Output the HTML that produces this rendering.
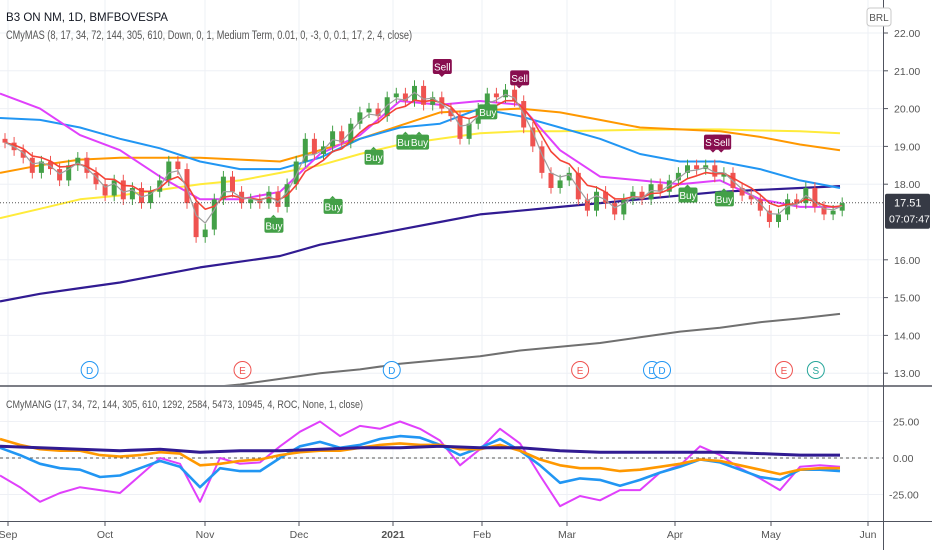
<!DOCTYPE html>
<html><head><meta charset="utf-8"><style>
html,body{margin:0;padding:0;background:#fff;}
svg{display:block;font-family:"Liberation Sans",sans-serif;}
</style></head><body>
<svg id="chart" width="932" height="550" viewBox="0 0 932 550" xmlns="http://www.w3.org/2000/svg">
<rect x="0" y="0" width="932" height="550" fill="#ffffff"/>
<g id="grid"></g>
<g id="main"></g>
<g id="osc"></g>
<g id="axes"></g>
<text x="6" y="21" font-size="11.5" fill="#131722" textLength="162" lengthAdjust="spacingAndGlyphs">B3 ON NM, 1D, BMFBOVESPA</text>
<text x="6" y="39" font-size="11.5" fill="#555" textLength="406" lengthAdjust="spacingAndGlyphs">CMyMAS (8, 17, 34, 72, 144, 305, 610, Down, 0, 1, Medium Term, 0.01, 0, -3, 0, 0.1, 17, 2, 4, close)</text>
<text x="6" y="408" font-size="11" fill="#555" textLength="357" lengthAdjust="spacingAndGlyphs">CMyMANG (17, 34, 72, 144, 305, 610, 1292, 2584, 5473, 10945, 4, ROC, None, 1, close)</text>
<rect x="867" y="8" width="24" height="18" rx="3" fill="#fff" stroke="#c8c8c8"/>
<text x="879" y="21" font-size="10" fill="#555" text-anchor="middle">BRL</text>
</svg>
<script>
// ---- main pane data ----
const closes = [19.1,18.9,18.7,18.3,18.6,18.4,18.1,18.5,18.7,18.3,18.0,17.7,18.1,17.6,17.9,17.5,17.8,18.1,18.6,18.4,17.5,16.6,16.8,17.6,18.2,17.8,17.5,17.6,17.5,17.8,17.4,18.0,18.6,19.2,18.8,19.0,19.4,19.1,19.6,19.9,20.0,19.8,20.3,20.4,20.2,20.6,20.1,20.3,20.0,19.8,19.2,19.6,20.0,20.4,20.3,20.5,20.2,19.5,19.0,18.3,17.9,18.1,18.3,17.6,17.3,17.8,17.5,17.2,17.6,17.8,17.6,18.0,17.8,18.1,18.3,18.5,18.4,18.5,18.2,18.3,17.9,17.7,17.6,17.3,17.0,17.2,17.6,17.5,17.9,17.4,17.2,17.3,17.5];
const ma34 = [20.4,20.0,19.3,18.9,18.2,17.6,17.6,17.8,18.8,19.3,20.2,20.1,20.2,20.1,18.9,18.2,18.1,18.0,18.1,17.6,17.4,17.4];
const ma72 = [19.75,19.7,19.5,19.2,18.95,18.6,18.4,18.4,18.7,19.2,19.5,19.6,20.0,19.8,19.5,19.2,18.8,18.6,18.6,18.4,18.1,17.9];
const ma144 = [18.3,18.5,18.65,18.7,18.7,18.7,18.65,18.6,18.9,19.2,19.55,19.9,19.95,20.0,19.9,19.7,19.5,19.45,19.4,19.25,19.05,18.9];
const ma305 = [17.1,17.35,17.6,17.7,17.85,18.0,18.1,18.3,18.5,18.8,19.05,19.2,19.35,19.4,19.4,19.42,19.44,19.45,19.45,19.42,19.4,19.35];
const ma610 = [14.9,15.1,15.25,15.4,15.6,15.8,15.95,16.1,16.4,16.6,16.8,17.0,17.2,17.3,17.4,17.5,17.6,17.7,17.8,17.85,17.9,17.95];
const ma1292 = [11.9,12.1,12.3,12.4,12.5,12.6,12.7,12.85,13.0,13.1,13.25,13.35,13.45,13.6,13.7,13.8,13.95,14.1,14.2,14.35,14.45,14.57];
const priceTicks = [22,21,20,19,18,16,15,14,13];
const buyIdx = [29.5,36,40.5,44,45.5,53,75,79];
const buyPrice = [16.9,17.4,18.7,19.1,19.1,19.9,17.7,17.6];
const sellIdx = [48,56.5,77.8,78.7];
const sellPrice = [21.1,20.8,19.1,19.1];
const eventLabels = ['D','E','D','E','D','D','E','S'];
const eventIdx = [9.3,26.1,42.5,63.2,71.1,72.2,85.6,89.1];
// ---- oscillator data ----
const oscMagenta = [-12,-20,-30,-24,-20,-22,-24,-12,0,-4,-30,0,-4,-3,8,18,25,15,22,20,25,20,12,-5,6,20,10,-12,-33,-26,-29,-22,-22,-10,-5,8,2,-7,-14,-22,-6,-5,-6];
const oscBlue = [7,2,-4,-7,-8,-13,-12,-7,-2,-6,-20,-7,-9,-9,0,8,11,7,9,13,15,14,9,2,7,13,5,-5,-17,-14,-15,-19,-15,-10,-6,-1,-3,-8,-13,-15,-8,-8,-9];
const oscOrange = [13,9,6,5,5,2,1,2,4,3,-5,-4,-2,-1,2,4,5,5,7,9,10,9,9,6,6,9,5,-1,-5,-7,-7,-9,-8,-6,-4,-1,-2,-5,-8,-11,-8,-7,-7];
const oscNavy = [8,7,6,5,6,4,5,5,6,7,7,8,7,7,5,4,4,4,4,3,2,2];
const oscTicks = [25,0,-25];
const monthLabels = ['Sep','Oct','Nov','Dec','2021','Feb','Mar','Apr','May','Jun'];
const monthX = [8,105,205,299,393,482,567,675,771,868];

const NS='http://www.w3.org/2000/svg';
function el(tag,attrs,parent){const e=document.createElementNS(NS,tag);for(const k in attrs)e.setAttribute(k,attrs[k]);parent.appendChild(e);return e;}
const py = p => 33 + (22 - p) * 37.8;
const cx = i => 5 + i * 9.1;
const mx = i => i * 40;
const oy = v => 458 - v * 1.46;
const ox = i => i * 20;
const grid=document.getElementById('grid'), main=document.getElementById('main'), osc=document.getElementById('osc'), axes=document.getElementById('axes');

priceTicks.forEach(p=>{const l=el('line',{x1:0,x2:883,y1:py(p),y2:py(p),stroke:'#eef0f5'},grid);

});
oscTicks.forEach(v=>{const l=el('line',{x1:0,x2:883,y1:oy(v),y2:oy(v),stroke:'#eef0f5'},grid);

});
monthX.forEach(x=>{const l=el('line',{x1:x,x2:x,y1:0,y2:521,stroke:'#eef0f5'},grid);

});

const clip=el('clipPath',{id:'mainclip'},document.getElementById('chart'));
el('rect',{x:0,y:0,width:883,height:385},clip);
main.setAttribute('clip-path','url(#mainclip)');

function line(arr,xf,yf,color,w,parent,name){
  const d=arr.map((v,i)=>(i?'L':'M')+xf(i).toFixed(1)+','+yf(v).toFixed(1)).join('');
  const p=el('path',{d:d,fill:'none',stroke:color,'stroke-width':w,'stroke-linejoin':'round'},parent);
  
  
  return p;
}
line(ma1292,mx,py,'#707070',2,main,'ma-1292-line');
line(ma610,mx,py,'#311b92',2.2,main,'ma-610-line');
line(ma305,mx,py,'#ffeb3b',2,main,'ma-305-line');
line(ma144,mx,py,'#ff9800',2,main,'ma-144-line');
line(ma72,mx,py,'#2196f3',2,main,'ma-72-line');
line(ma34,mx,py,'#e040fb',2,main,'ma-34-line');

closes.forEach((c,i)=>{
  const o = i? closes[i-1] : c+0.1;
  const up = c>=o;
  const col = up ? '#43a047' : '#ef5350';
  const hi = Math.max(o,c)+0.15, lo=Math.min(o,c)-0.15;
  const w=el('line',{x1:cx(i),x2:cx(i),y1:py(hi),y2:py(lo),stroke:col,'stroke-width':1},main);
  
  
  const b=el('rect',{x:cx(i)-2.5,y:py(Math.max(o,c)),width:5,height:Math.max(1,Math.abs(py(o)-py(c))),fill:col},main);
  
  
});
const ema=[];closes.forEach((c,i)=>ema.push(i?ema[i-1]+(c-ema[i-1])*0.3:c));
line(ema,cx,py,'#f44336',1.6,main,'ema-8-line');
const ema2=[];closes.forEach((c,i)=>ema2.push(i?ema2[i-1]+(c-ema2[i-1])*0.55:c));
line(ema2,cx,py,'#9e9e9e',1.2,main,'ema-fast-line');

const cp=el('line',{x1:0,x2:883,y1:py(17.51),y2:py(17.51),stroke:'#555','stroke-dasharray':'1,2'},main);



buyIdx.forEach((b,k)=>{
  const g=el('g',{},main);
  
  
  const x=cx(b),y=py(buyPrice[k]);
  el('rect',{x:x-9,y:y-8,width:19,height:15,rx:2,fill:'#43a047'},g);
  el('path',{d:`M${x-3},${y-8}L${x},${y-11}L${x+3},${y-8}Z`,fill:'#43a047'},g);
  const t=el('text',{x:x+0.5,y:y+3.5,'font-size':10,fill:'#fff','text-anchor':'middle'},g);t.textContent='Buy';
});
sellIdx.forEach((b,k)=>{
  const g=el('g',{},main);
  
  
  const x=cx(b),y=py(sellPrice[k]);
  el('rect',{x:x-9,y:y-8,width:19,height:15,rx:2,fill:'#880e4f'},g);
  el('path',{d:`M${x-3},${y+7}L${x},${y+10}L${x+3},${y+7}Z`,fill:'#880e4f'},g);
  const t=el('text',{x:x+0.5,y:y+3.5,'font-size':10,fill:'#fff','text-anchor':'middle'},g);t.textContent='Sell';
});
eventIdx.forEach((e,k)=>{
  const g=el('g',{},main);
  
  
  const lab=eventLabels[k];
  const col= lab==='E'?'#ef5350':(lab==='S'?'#26a69a':'#2196f3');
  el('circle',{cx:cx(e),cy:370,r:8.5,fill:'#fff',stroke:col,'stroke-width':1},g);
  const t=el('text',{x:cx(e),y:374,'font-size':10,fill:col,'text-anchor':'middle'},g);t.textContent=lab;
});

const zl=el('line',{x1:0,x2:883,y1:oy(0),y2:oy(0),stroke:'#555','stroke-dasharray':'3,3'},osc);


line(oscMagenta,ox,oy,'#e040fb',2,osc,'osc-magenta-line');
line(oscBlue,ox,oy,'#2196f3',2.6,osc,'osc-blue-line');
line(oscOrange,ox,oy,'#ff9800',2.6,osc,'osc-orange-line');
line(oscNavy,mx,oy,'#311b92',3,osc,'osc-navy-line');

const a1=el('line',{x1:883.5,x2:883.5,y1:0,y2:550,stroke:'#50535e'},axes);


const a2=el('line',{x1:0,x2:932,y1:386,y2:386,stroke:'#50535e','stroke-width':1.5},axes);


const a3=el('line',{x1:0,x2:932,y1:521.5,y2:521.5,stroke:'#50535e'},axes);


priceTicks.forEach(p=>{
  const t=el('text',{x:894,y:py(p)+4,'font-size':10.5,fill:'#555'},axes);
  
  
  t.textContent=p.toFixed(2);
  const tk=el('line',{x1:883,x2:888,y1:py(p),y2:py(p),stroke:'#50535e'},axes);
  
  
});
oscTicks.forEach(v=>{
  const t=el('text',{x:v<0?889:893,y:oy(v)+4,'font-size':10.5,fill:'#555'},axes);
  
  
  t.textContent=v.toFixed(2);
});
monthLabels.forEach((m,k)=>{
  const t=el('text',{x:monthX[k],y:538,'font-size':10.5,fill:'#555','text-anchor':'middle','font-weight':m==='2021'?'bold':'normal'},axes);
  
  
  t.textContent=m;
  const tk=el('line',{x1:monthX[k],x2:monthX[k],y1:521,y2:526,stroke:'#50535e'},axes);
  
  
});
const badge=el('g',{},axes);


el('rect',{x:885,y:py(17.51)-9,width:45,height:35,rx:2,fill:'#363a45'},badge);
const b1=el('text',{x:894,y:py(17.51)+4,'font-size':11,fill:'#fff'},badge);b1.textContent='17.51';
const b2=el('text',{x:889,y:py(17.51)+20,'font-size':10.5,fill:'#fff'},badge);b2.textContent='07:07:47';
</script>
</body></html>
